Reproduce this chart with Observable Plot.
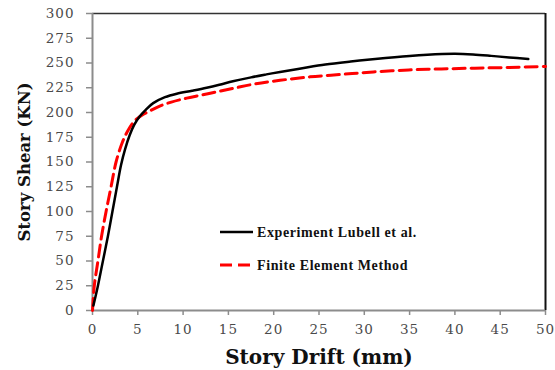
<!DOCTYPE html>
<html>
<head>
<meta charset="utf-8">
<script src="https://cdn.jsdelivr.net/npm/d3@7"></script>
<script src="https://cdn.jsdelivr.net/npm/@observablehq/plot@0.6"></script>
<style>
  html, body { margin: 0; padding: 0; background: #fff; }
  #chart { position: relative; width: 555px; height: 370px; }
</style>
</head>
<body>
<div id="chart"></div>
<script>
// Experiment Lubell et al. (drift mm, shear kN)
const expDrift = [0.1, 0.6, 1.15, 1.7, 2.2, 2.7, 3.15, 3.6, 4.1, 4.6, 5.2, 5.9, 6.7, 8.0, 9.3, 11.0, 12.6, 14.0, 15.5, 17.5, 19.2, 20.7, 23.0, 25.7, 28.5, 31.2, 35.0, 38.6, 40.0, 42.0, 44.0, 46.0, 48.1];
const expShear = [5, 25, 50, 75, 100, 125, 147, 163, 177, 187.5, 196, 203, 209.5, 215.5, 219, 222, 225, 228, 231.5, 235.5, 238.5, 241, 244.5, 248.5, 251.5, 254, 257, 259, 259.3, 258.6, 257.2, 255.6, 254];
// Finite Element Method
const femDrift = [0, 0.2, 0.6, 1.0, 1.5, 2.05, 2.6, 3.3, 3.9, 4.6, 5.4, 6.3, 7.3, 8.7, 10.4, 13.0, 15.6, 18.0, 20.7, 24.0, 27.5, 31.0, 34.9, 38.5, 42.2, 46.0, 50.0];
const femShear = [0, 25, 50, 75, 100, 125, 150, 170, 181.5, 191, 197, 201.5, 206, 210.5, 214.5, 219.5, 224.5, 229, 232.5, 236, 238.5, 241, 243, 244, 244.8, 245.5, 246.5];

const xTicks = [0, 5, 10, 15, 20, 25, 30, 35, 40, 45, 50];
const yTicks = [0, 25, 50, 75, 100, 125, 150, 175, 200, 225, 250, 275, 300];
const xTitle = "Story Drift (mm)";
const yTitle = "Story Shear (KN)";
const seriesNames = ["Experiment Lubell et al.", "Finite Element Method"];

const expData = expDrift.map((d, i) => ({x: d, y: expShear[i]}));
const femData = femDrift.map((d, i) => ({x: d, y: femShear[i]}));

const tickFont = "DejaVu Serif";
const titleFont = "DejaVu Serif";

const plot = Plot.plot({
  width: 555,
  height: 370,
  marginLeft: 92,
  marginRight: 10,
  marginTop: 13,
  marginBottom: 60,
  x: {domain: [0, 50]},
  y: {domain: [0, 300]},
  style: {fontFamily: tickFont, fontSize: "13.5px", color: "#404040", background: "#fff", overflow: "visible"},
  marks: [
    Plot.ruleY([300], {stroke: "#333", strokeWidth: 1.5}),
    Plot.ruleX([50], {stroke: "#111", strokeWidth: 2, y1: 0, y2: 300}),
    Plot.axisX({ticks: xTicks, tickSize: 5, tickPadding: 9, stroke: "#8c8c8c", strokeWidth: 1.5, fill: "#4a4a4a", label: null, fontSize: 13.5, tickFormat: d => String(d)}),
    Plot.axisY({ticks: yTicks, tickSize: 6, tickPadding: 12, stroke: "#8c8c8c", strokeWidth: 1.5, fill: "#4a4a4a", label: null, fontSize: 13.5, tickFormat: d => String(d)}),
    Plot.ruleX([0], {stroke: "#8c8c8c", strokeWidth: 2}),
    Plot.ruleY([0], {stroke: "#8c8c8c", strokeWidth: 2}),
    Plot.line(femData, {x: "x", y: "y", stroke: "#ff0000", strokeWidth: 3, strokeDasharray: "12,6", curve: "catmull-rom"}),
    Plot.line(expData, {x: "x", y: "y", stroke: "#000", strokeWidth: 2.5, curve: "catmull-rom"}),
    Plot.text([xTitle], {frameAnchor: "bottom", textAnchor: "middle", lineAnchor: "middle", dy: 47, text: d => d, fontFamily: titleFont, fontWeight: "bold", fontSize: 20, fill: "#111"}),
    Plot.text([yTitle], {frameAnchor: "left", textAnchor: "middle", lineAnchor: "middle", dx: -68, rotate: -90, text: d => d, fontFamily: titleFont, fontWeight: "bold", fontSize: 16.5, fill: "#111"})
  ]
});

const svg = d3.select(plot);
// letter spacing for tick labels
svg.selectAll("g[aria-label='x-axis tick label'] text, g[aria-label='y-axis tick label'] text").style("letter-spacing", "1px");

// legend inside the frame
const leg = svg.append("g").attr("font-family", "Liberation Serif").attr("font-weight", "bold").attr("font-size", 14).attr("fill", "#111").attr("text-anchor", "start");
const legItems = [
  {name: seriesNames[0], stroke: "#000", dash: null, w: 2.5, y: 232},
  {name: seriesNames[1], stroke: "#ff0000", dash: "12,6", w: 3, y: 265}
];
legItems.forEach(it => {
  leg.append("line").attr("x1", 220).attr("x2", 253).attr("y1", it.y).attr("y2", it.y)
    .attr("stroke", it.stroke).attr("stroke-width", it.w).attr("stroke-dasharray", it.dash);
  leg.append("text").attr("x", 257).attr("y", it.y).attr("dy", "0.33em").attr("text-anchor", "start").style("letter-spacing", "0.6px").text(it.name);
});

document.getElementById("chart").appendChild(plot);
</script>
</body>
</html>
